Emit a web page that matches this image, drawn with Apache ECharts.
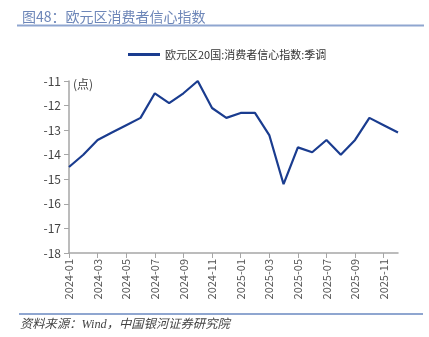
<!DOCTYPE html>
<html>
<head>
<meta charset="utf-8">
<script src="https://cdn.jsdelivr.net/npm/echarts@6/dist/echarts.min.js"></script>
<style>
html,body{margin:0;padding:0;background:#fff;}
#c{width:429px;height:337px;}
</style>
</head>
<body>
<div id="c"></div>
<script>
const categories = ['2024-01','2024-02','2024-03','2024-04','2024-05','2024-06','2024-07','2024-08','2024-09','2024-10','2024-11','2024-12',
  '2025-01','2025-02','2025-03','2025-04','2025-05','2025-06','2025-07','2025-08','2025-09','2025-10','2025-11','2025-12'];
const seriesName = '欧元区20国:消费者信心指数:季调';
const values = [-14.5,-14.0,-13.4,-13.1,-12.8,-12.5,-11.5,-11.9,-11.5,-11.0,-12.1,-12.5,
  -12.3,-12.3,-13.2,-15.2,-13.7,-13.9,-13.4,-14.0,-13.4,-12.5,-12.8,-13.1];
const yTicks = {min:-18, max:-11, interval:1};
const titleText = '图48：欧元区消费者信心指数';
const sourceText = '资料来源：Wind，中国银河证券研究院';
const unitText = '(点)';

const chart = echarts.init(document.getElementById('c'), null, {renderer:'canvas'});
const font = '"Noto Sans CJK SC", "Noto Sans", sans-serif';
chart.setOption({
  animation:false,
  backgroundColor:'#fff',
  title:{text:titleText, left:17, top:5, textStyle:{color:'#6d86b8', fontSize:14, fontWeight:'normal', fontFamily:font}},
  legend:{top:44, left:123, itemWidth:32, itemHeight:3, itemGap:4,
    textStyle:{color:'#333', fontSize:11, fontFamily:font},
    data:[{name:seriesName, icon:'path://M0,0H32V3H0Z'}]},
  grid:{left:69, right:31, top:81, bottom:84, containLabel:false},
  xAxis:{type:'category', data:categories, boundaryGap:false,
    axisLine:{lineStyle:{color:'#a6a6a6', width:1.5}},
    axisTick:{show:true, interval:1, length:5, lineStyle:{color:'#a6a6a6'}},
    axisLabel:{interval:1, rotate:90, color:'#555', fontSize:11, fontFamily:font, margin:6}},
  yAxis:{type:'value', min:yTicks.min, max:yTicks.max, interval:yTicks.interval,
    splitLine:{show:false},
    axisLine:{show:true, lineStyle:{color:'#a6a6a6', width:1.5}},
    axisTick:{show:true, length:5, lineStyle:{color:'#a6a6a6'}},
    axisLabel:{color:'#444', fontSize:12, fontFamily:font, margin:8}},
  series:[{name:seriesName, type:'line', data:values, symbol:'none',
    lineStyle:{color:'#1a3c8f', width:2.2}, itemStyle:{color:'#1a3c8f'}}],
  graphic:[
    {type:'line', shape:{x1:17, y1:25.5, x2:424, y2:25.5}, style:{stroke:'#8fa6d0', lineWidth:2}},
    {type:'line', shape:{x1:19, y1:314, x2:423, y2:314}, style:{stroke:'#8fa6d0', lineWidth:2}},
    {type:'text', left:73, top:78, style:{text:unitText, fill:'#444', fontSize:12, fontFamily:font}},
    {type:'text', left:20, top:319, style:{text:sourceText, fill:'#444', fontSize:12.3, fontStyle:'italic', fontFamily:'"Liberation Serif", "Noto Sans CJK SC", serif'}}
  ]
});
</script>
</body>
</html>
